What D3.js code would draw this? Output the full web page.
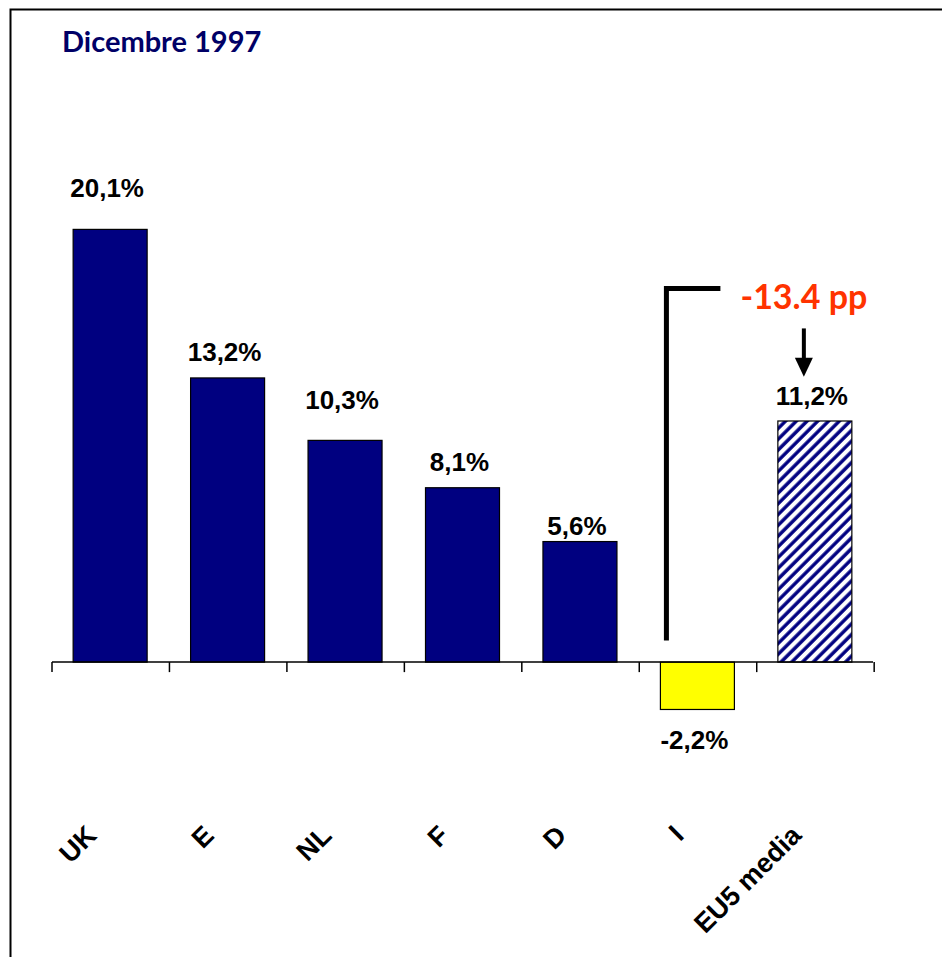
<!DOCTYPE html>
<html>
<head>
<meta charset="utf-8">
<script src="https://cdn.jsdelivr.net/npm/d3@7/dist/d3.min.js"></script>
<style>
  html, body { margin: 0; padding: 0; background: #ffffff; }
  svg { display: block; }
</style>
</head>
<body>
<svg id="chart" width="942" height="957"></svg>
<script>
// Rendimento per paese, dicembre 1997
const categories = ["UK", "E", "NL", "F", "D", "I", "EU5 media"];
const values = [20.1, 13.2, 10.3, 8.1, 5.6, -2.2, 11.2];
const valueLabels = ["20,1%", "13,2%", "10,3%", "8,1%", "5,6%", "-2,2%", "11,2%"];
const title = "Dicembre 1997";
const gapLabel = "-13.4 pp";

// distance (px) between each bar end and the centre of its value label
const labelLift = [42, 26, 41, 26, 16, 30, 25];

const svg = d3.select("#chart");
const W = 942, H = 957;

const NAVY = "#000080";
const LABEL_FONT = "'Liberation Sans', Arial, sans-serif";
const TITLE_FONT = "Lato, 'Open Sans', sans-serif";

// frame
svg.append("rect")
  .attr("x", 10.5).attr("y", 9.5)
  .attr("width", W + 20).attr("height", H + 20)
  .attr("fill", "none").attr("stroke", "#000").attr("stroke-width", 2);

// hatch for the average bar
const defs = svg.append("defs");
const pat = defs.append("pattern")
  .attr("id", "hatch")
  .attr("patternUnits", "userSpaceOnUse")
  .attr("width", 7.6).attr("height", 7.6)
  .attr("patternTransform", "rotate(45)");
pat.append("rect").attr("width", 7.6).attr("height", 7.6).attr("fill", "#fff");
pat.append("line")
  .attr("x1", 2).attr("x2", 2).attr("y1", 0).attr("y2", 7.6)
  .attr("stroke", NAVY).attr("stroke-width", 3.4);

// scales
const x = d3.scaleBand()
  .domain(categories)
  .range([52, 873])
  .paddingInner(0.37)
  .paddingOuter(0.18);

const y = d3.scaleLinear()
  .domain([-10, 25])
  .range([877.4, 123.9]);

const fillFor = (c, v) => c === "EU5 media" ? "url(#hatch)" : (v < 0 ? "#ffff00" : NAVY);

// bars
svg.append("g").selectAll("rect")
  .data(categories.map((c, i) => ({ c, v: values[i], i })))
  .join("rect")
  .attr("x", d => x(d.c))
  .attr("width", x.bandwidth())
  .attr("y", d => y(Math.max(0, d.v)))
  .attr("height", d => Math.abs(y(d.v) - y(0)))
  .attr("fill", d => fillFor(d.c, d.v))
  .attr("stroke", "#000")
  .attr("stroke-width", 1.2);

// category axis: baseline with ticks between categories
const axis = svg.append("g");
const step = x.step();
const x0 = x.range()[0], x1 = x.range()[1];
axis.append("line")
  .attr("x1", x0).attr("x2", x1)
  .attr("y1", y(0)).attr("y2", y(0))
  .attr("stroke", "#000").attr("stroke-width", 1.5);
const tickXs = d3.range(categories.length + 1).map(i => x0 + i * step);
axis.selectAll("line.tick")
  .data(tickXs)
  .join("line")
  .attr("class", "tick")
  .attr("x1", d => d).attr("x2", d => d)
  .attr("y1", y(0)).attr("y2", y(0) + 10)
  .attr("stroke", "#000").attr("stroke-width", 1.5);

// rotated category names
axis.selectAll("text.cat")
  .data(categories)
  .join("text")
  .attr("class", "cat")
  .attr("transform", c => `translate(${x(c) + x.bandwidth() / 2 - 12},837) rotate(-45)`)
  .attr("text-anchor", "end")
  .attr("font-family", LABEL_FONT)
  .attr("font-weight", "bold")
  .attr("font-size", 27)
  .attr("fill", "#000")
  .text(c => c);

// value labels
svg.append("g").selectAll("text")
  .data(categories.map((c, i) => ({ c, v: values[i], i })))
  .join("text")
  .attr("x", d => x(d.c) + x.bandwidth() / 2 - 3)
  .attr("y", d => d.v >= 0 ? y(d.v) - labelLift[d.i] : y(d.v) + labelLift[d.i])
  .attr("dy", "0.36em")
  .attr("text-anchor", "middle")
  .attr("font-family", LABEL_FONT)
  .attr("font-weight", "bold")
  .attr("font-size", 26)
  .attr("fill", "#000")
  .text(d => valueLabels[d.i]);

// title
svg.append("text")
  .attr("x", 62).attr("y", 52)
  .attr("font-family", TITLE_FONT)
  .attr("font-weight", "bold")
  .attr("font-size", 29)
  .attr("fill", "#000066")
  .text(title);

// gap annotation: bracket from Italy up to the average
const iLeft = x("I") + 6;
const bracket = d3.path();
bracket.moveTo(iLeft, y(1.0));
bracket.lineTo(iLeft, y(17.35));
bracket.lineTo(iLeft + 54, y(17.35));
svg.append("path")
  .attr("d", bracket.toString())
  .attr("fill", "none")
  .attr("stroke", "#000")
  .attr("stroke-width", 5);

const avgCx = x("EU5 media") + x.bandwidth() / 2 - 11;
svg.append("text")
  .attr("x", avgCx).attr("y", y(16.4))
  .attr("text-anchor", "middle")
  .attr("font-family", TITLE_FONT)
  .attr("font-weight", "bold")
  .attr("font-size", 34)
  .attr("fill", "#ff3300")
  .text(gapLabel);

// arrow pointing at the average bar
const arrowTop = y(15.5), arrowTip = y(13.25);
svg.append("line")
  .attr("x1", avgCx).attr("x2", avgCx)
  .attr("y1", arrowTop).attr("y2", arrowTip - 14)
  .attr("stroke", "#000").attr("stroke-width", 4);
svg.append("path")
  .attr("d", `M${avgCx - 9},${arrowTip - 19} L${avgCx + 9},${arrowTip - 19} L${avgCx},${arrowTip} Z`)
  .attr("fill", "#000");
</script>
</body>
</html>
